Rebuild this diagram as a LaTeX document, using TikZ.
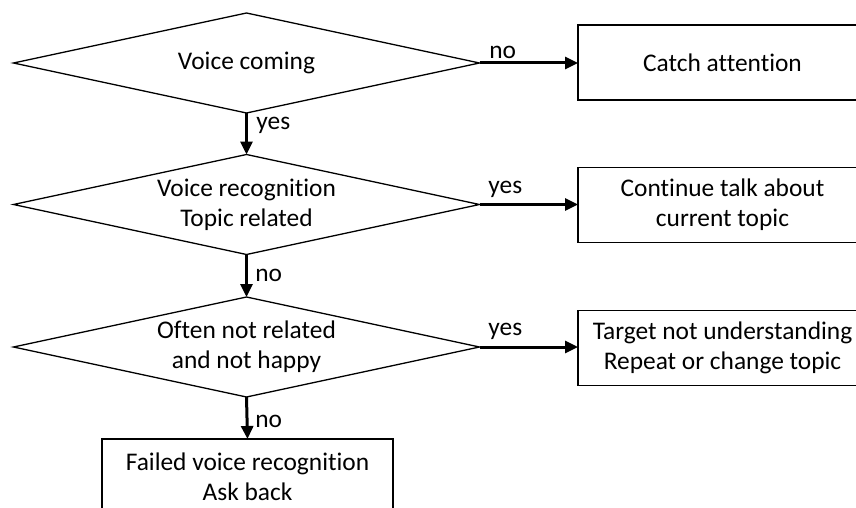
\documentclass[tikz,border=0pt]{standalone}
\usepackage{fontspec}
\setmainfont{Carlito}[Ligatures=CommonOff]
\usetikzlibrary{shapes.geometric,arrows.meta}

\begin{document}
\begin{tikzpicture}[x=0.5pt,y=-0.5pt,
  every node/.style={font=\fontsize{12.7}{15}\selectfont},
  decision/.style={draw, shape=diamond, minimum width=233pt, minimum height=50pt,
                   inner sep=0pt, outer sep=0pt, line width=0.65pt},
  action/.style={draw, rectangle, minimum width=144.5pt, minimum height=37.5pt,
                 inner sep=0pt, outer sep=0pt, line width=0.65pt},
  caption/.style={align=center, inner sep=0pt},
  flow/.style={line width=1.5pt, -{Triangle[length=6.5pt,width=6pt]}},
  tag/.style={anchor=base west, inner sep=0pt}]

\useasboundingbox (0,0) rectangle (856,508);
\clip (0,0) rectangle (856,508);

% decisions
\node[decision] (d1) at (246.5,63) {};
\node[caption] (t1) at (d1) {Voice coming};
\node[decision] (d2) at (246.5,204.5) {};
\node[caption] (t2) at (d2) {Voice recognition\\Topic related};
\node[decision] (d3) at (246.5,347) {};
\node[caption] (t3) at (d3) {Often not related\\and not happy};

% actions
\node[action] (b1) at (722.5,62.5) {Catch attention};
\node[action, align=center] (b2) at (722.5,205) {Continue talk about\\current topic};
\node[action, align=center] (b3) at (722.5,348) {Target not understanding\\Repeat or change topic};
\node[action, align=center, minimum width=145.5pt] (b4) at (247.5,476.5) {Failed voice recognition\\Ask back};

% flow
\draw[flow] (d1.east) -- (d1.east -| b1.west);
\draw[flow] (d2.east) -- (d2.east -| b2.west);
\draw[flow] (d3.east) -- (d3.east -| b3.west);
\draw[flow] (d1.south) -- (d2.north);
\draw[flow] (d2.south) -- (d3.north);
\draw[flow] (d3.south) -- (b4.north);

% branch labels
\node[tag] (l1) at (489,59) {no};
\node[tag] (l2) at (488,193) {yes};
\node[tag] (l3) at (488,335) {yes};
\node[tag] (l4) at (256,130) {yes};
\node[tag] (l5) at (255,281) {no};
\node[tag] (l6) at (255,427) {no};
\end{tikzpicture}
\end{document}
